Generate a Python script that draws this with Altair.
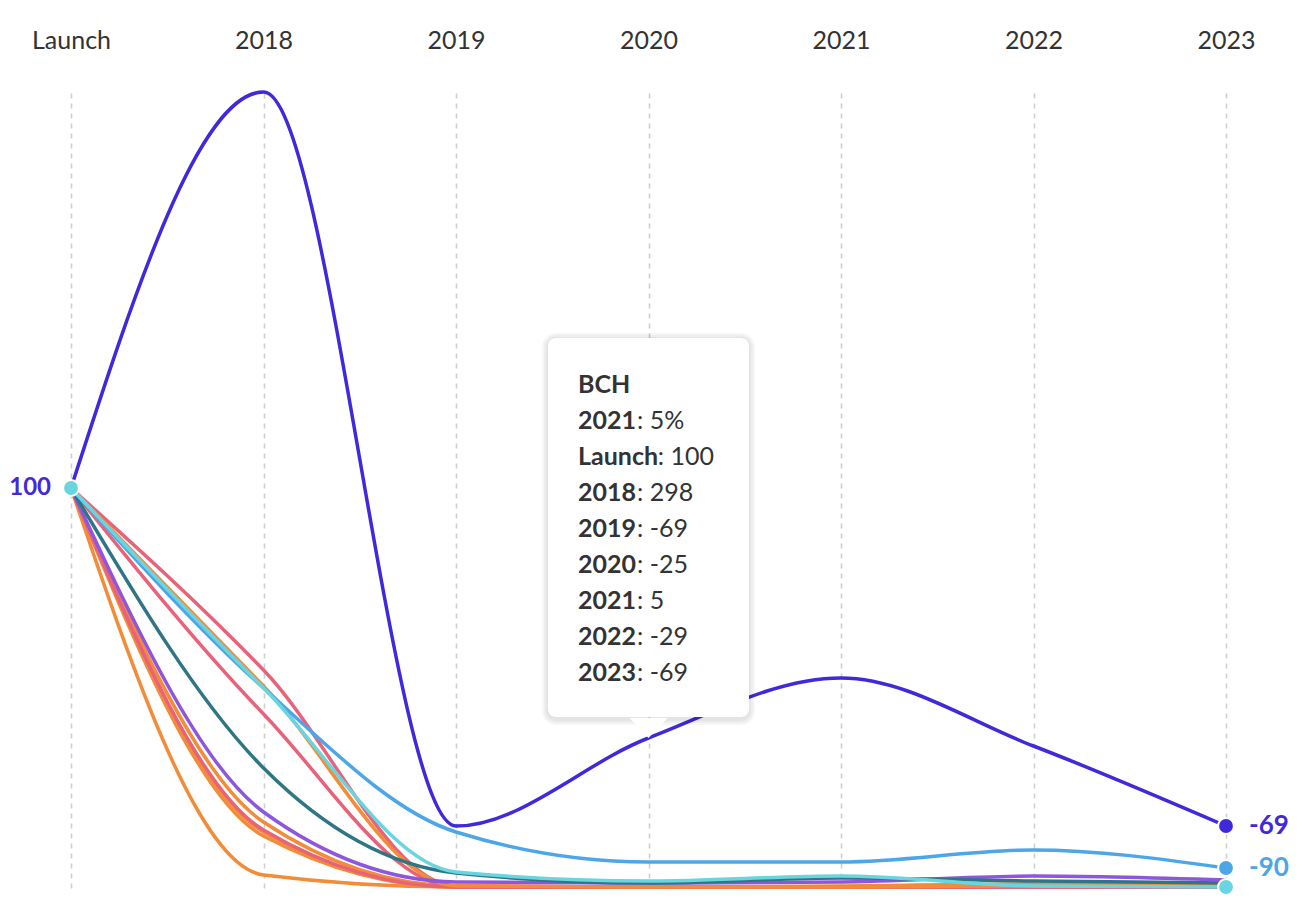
import altair as alt
import pandas as pd

# ---------------- data ----------------
periods = ["Launch", "2018", "2019", "2020", "2021", "2022", "2023"]

bch  = [100, 298, -69, -25, 5, -29, -69]
bsv  = [100, 0, -72, -87, -87, -81, -90]
btg  = [100, 0, -92, -96.5, -94, -99, -99.5]
bcd  = [100, 1, -99, -99.5, -99.5, -99, -98.5]
sbtc = [100, 9, -99, -99.5, -99.5, -99.5, -99.5]
btx  = [100, -13, -99.5, -99.5, -99.5, -99.5, -99.5]
b2x  = [100, -40, -92.5, -97.5, -95, -96.5, -97.5]
bcx  = [100, -62, -97, -97.5, -97, -94, -96]
lbtc = [100, -67, -99, -99.5, -99, -98, -98]
btp  = [100, -71, -99.5, -99.5, -99.5, -99.5, -99.5]
btw  = [100, -72, -99.5, -99.5, -99.5, -99.5, -99]
bpa  = [100, -74, -99.5, -99.5, -99.5, -99.5, -99.5]
ubtc = [100, -93.5, -99.5, -99.5, -99.5, -99.5, -99.5]

# drawing order: first = bottom
series_names  = ["UBTC", "BPA", "BTW", "LBTC", "BTP", "BTX", "SBTC", "BCD",
                 "BCX", "B2X", "BSV", "BTG", "BCH"]
series_values = [ubtc, bpa, btw, lbtc, btp, btx, sbtc, bcd,
                 bcx, b2x, bsv, btg, bch]

# styles (kept apart from the data)
ORANGE, PINK = "#F28C38", "#E8627A"
series_colors = {
    "UBTC": ORANGE, "BPA": ORANGE, "BTW": ORANGE, "LBTC": ORANGE, "BCD": ORANGE,
    "BTP": PINK, "BTX": PINK, "SBTC": PINK,
    "BCX": "#8E55DD", "B2X": "#2E7685", "BSV": "#4DA6E8", "BTG": "#6AD5E0",
    "BCH": "#4029DA",
}
end_labeled = ["BCH", "BSV"]          # series with a value label at the end
end_dots = ["BTG", "BSV", "BCH"]      # series with a dot at the end

hover_series = "BCH"
hover_header = "2021"
hover_anchor = "2020"

FONT = "Lato"
TXT = "#333333"
FS = 25
LW = 3.5
DOT = 250

# ---------------- frames ----------------
rows = []
for name, vals in zip(series_names, series_values):
    for i, v in enumerate(vals):
        rows.append({"series": name, "i": i, "value": v})
df = pd.DataFrame(rows)

x_scale = alt.Scale(domain=[0, len(periods) - 1], nice=False, zero=False)
y_scale = alt.Scale(domain=[-100, 298], nice=False, zero=False)
label_expr = "[" + ",".join(f"'{p}'" for p in periods) + "][datum.value]"
x_axis = alt.Axis(orient="top", values=list(range(len(periods))), labelExpr=label_expr,
                  grid=True, gridDash=[5, 5], gridColor="#cfcfcf", gridWidth=1.6,
                  domain=False, ticks=False, tickSize=0, labelPadding=39, labelFlush=False,
                  labelFontSize=FS, labelFont=FONT, labelColor=TXT, title=None)
X = alt.X("i:Q", scale=x_scale, axis=x_axis)
Y = alt.Y("value:Q", scale=y_scale, axis=None)

layers = []
for name in series_names:
    layers.append(
        alt.Chart(df[df.series == name]).mark_line(
            interpolate="monotone", strokeWidth=LW, color=series_colors[name]
        ).encode(x=X, y=Y)
    )

last_i = len(periods) - 1
# end dots
for name in end_dots:
    d = df[(df.series == name) & (df.i == last_i)]
    layers.append(alt.Chart(d).mark_circle(size=DOT, opacity=1, color=series_colors[name],
                                           stroke="white", strokeWidth=2).encode(x=X, y=Y))
# start dot (drawn by the last series at Launch)
d0 = df[(df.series == "BTG") & (df.i == 0)]
layers.append(alt.Chart(d0).mark_circle(size=DOT, opacity=1, color=series_colors["BTG"],
                                        stroke="white", strokeWidth=2).encode(x=X, y=Y))
# end labels
for name in end_labeled:
    d = df[(df.series == name) & (df.i == last_i)].copy()
    d["label"] = d["value"].map(lambda v: str(int(round(v))))
    layers.append(alt.Chart(d).mark_text(align="left", baseline="middle", dx=23,
                                         fontSize=26, fontWeight="bold", font=FONT,
                                         color=series_colors[name]).encode(x=X, y=Y, text="label:N"))
# start label
ds = df[(df.series == hover_series) & (df.i == 0)].copy()
ds["label"] = ds["value"].map(lambda v: str(int(round(v))))
layers.append(alt.Chart(ds).mark_text(align="right", baseline="middle", dx=-20,
                                      fontSize=24, fontWeight="bold", font=FONT,
                                      color=series_colors[hover_series]).encode(x=X, y=Y, text="label:N"))

# ---------------- tooltip (anchored to the hovered point) ----------------
hv = dict(zip(periods, series_values[series_names.index(hover_series)]))
ai = periods.index(hover_anchor)
av = hv[hover_anchor]
half_w = 0.522          # half box width in x units
box_bottom = av + 10.5
box_top = box_bottom + 189.5
box = pd.DataFrame({"i": [ai - half_w], "i2": [ai + half_w],
                    "value": [box_top], "value2": [box_bottom]})
for k, op in enumerate([0.035, 0.035, 0.035]):
    e = 2 * (k + 1)
    layers.append(alt.Chart(box).mark_rect(cornerRadius=8 + e, color="black", opacity=op,
                                           xOffset=-e, x2Offset=e, yOffset=-e + 1, y2Offset=e + 2)
                  .encode(x=X, x2="i2:Q", y=Y, y2="value2:Q"))
layers.append(alt.Chart(box).mark_rect(cornerRadius=8, color="white", opacity=1)
              .encode(x=X, x2="i2:Q", y=Y, y2="value2:Q"))
ptr = pd.DataFrame({"i": [ai], "value": [av]})
layers.append(alt.Chart(ptr).mark_point(shape="M-1,-1.05L1,-1.05L0,0Z", size=1444, filled=True,
                                        color="white", opacity=1, strokeWidth=0)
              .encode(x=X, y=Y))

text_x = ai - 0.366
row_rows = [(hover_header, f": {int(hv[hover_header])}%")] + \
           [(p, f": {int(v)}") for p, v in hv.items()]
title_y = box_top - 23.5

def bold_width(s):
    w = {"L": 0.51, "a": 0.50, "u": 0.56, "n": 0.56, "c": 0.46, "h": 0.56}
    return sum(w.get(ch, 0.58) for ch in s) * FS

layers.append(alt.Chart(pd.DataFrame({"i": [text_x], "value": [title_y], "t": [hover_series]}))
              .mark_text(align="left", baseline="middle", fontSize=FS, fontWeight="bold",
                         font=FONT, color=TXT).encode(x=X, y=Y, text="t:N"))
for k, (lab, val) in enumerate(row_rows):
    yv = title_y - 18 * (k + 1)
    dfr = pd.DataFrame({"i": [text_x], "value": [yv], "lab": [lab], "val": [val]})
    layers.append(alt.Chart(dfr).mark_text(align="left", baseline="middle", fontSize=FS,
                                           fontWeight="bold", font=FONT, color=TXT)
                  .encode(x=X, y=Y, text="lab:N"))
    layers.append(alt.Chart(dfr).mark_text(align="left", baseline="middle", fontSize=FS,
                                           font=FONT, color=TXT, dx=bold_width(lab) + 1)
                  .encode(x=X, y=Y, text="val:N"))

chart = alt.layer(*layers).properties(
    width=1155, height=796,
    background="white",
    autosize=alt.AutoSizeParams(type="none"),
    padding={"left": 63, "top": 84, "right": 70, "bottom": 16},
).configure_view(strokeWidth=0)

chart.save("out.html", embed_options={"renderer": "svg", "actions": False})
